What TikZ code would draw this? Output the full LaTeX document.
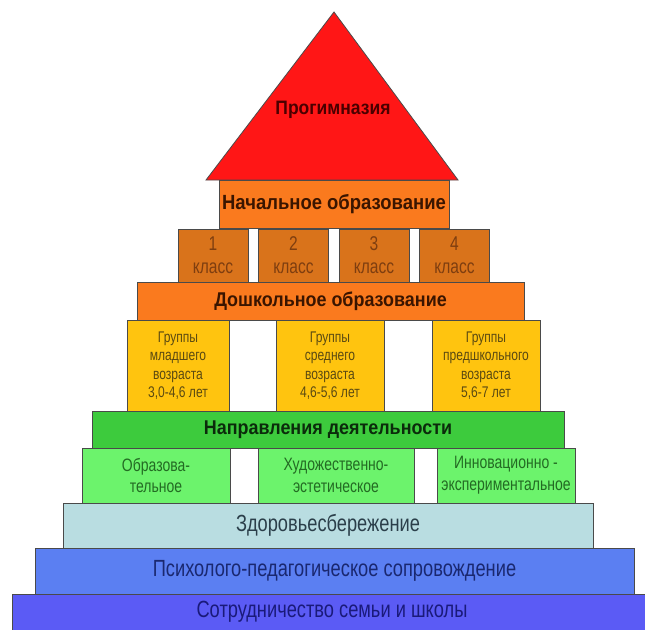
\documentclass[tikz,border=0pt]{standalone}
\usepackage{fontspec}
\setmainfont{Liberation Sans}
\newfontfamily\rfont{Liberation Sans}[FakeStretch=0.78]
\newfontfamily\bfont{Liberation Sans}[FakeStretch=0.9]
\definecolor{edge}{HTML}{4A4A4A}
\definecolor{roof}{HTML}{FF1616}
\definecolor{roofT}{HTML}{4A0000}
\definecolor{orA}{HTML}{FA7A1E}
\definecolor{orT}{HTML}{3A1500}
\definecolor{cls}{HTML}{D9731B}
\definecolor{clsT}{HTML}{7E3E10}
\definecolor{yel}{HTML}{FFC40F}
\definecolor{yelT}{HTML}{5B4A12}
\definecolor{grn}{HTML}{3DCB3D}
\definecolor{grnT}{HTML}{0B2B0B}
\definecolor{lgr}{HTML}{6CF36C}
\definecolor{lgrT}{HTML}{236B23}
\definecolor{lbl}{HTML}{B9DDE1}
\definecolor{lblT}{HTML}{2B3F4A}
\definecolor{psy}{HTML}{5B7FF2}
\definecolor{psyT}{HTML}{1A2870}
\definecolor{bot}{HTML}{5B5BF5}
\definecolor{botT}{HTML}{1A1A7A}
\begin{document}
\begin{tikzpicture}[x=1bp,y=-1bp,
  blk/.style={draw=edge, line width=0.8bp, rectangle, inner sep=0pt, align=center},
  btxt/.style={font=\bfont\bfseries\fontsize{20}{24}\selectfont},
  clsbox/.style={blk, fill=cls, text=clsT, minimum width=70bp, minimum height=53bp, font=\rfont\fontsize{20}{23}\selectfont},
  yelbox/.style={blk, fill=yel, text=yelT, minimum height=91bp, font=\rfont\fontsize{15.5}{18.5}\selectfont},
  lgrbox/.style={blk, fill=lgr, text=lgrT, minimum height=55bp, font=\rfont\fontsize{18}{22}\selectfont},
  basetxt/.style={font=\rfont\fontsize{23.5}{27}\selectfont}]
\useasboundingbox (0,0) rectangle (645,630);
\clip (0,0) rectangle (645,630);
\fill[white] (0,0) rectangle (645,630);
% roof
\coordinate (apex) at (334,12);
\coordinate (bl) at (206,180);
\coordinate (br) at (458,180);
\draw[edge, line width=0.8bp, fill=roof] (apex) -- (br) -- (bl) -- cycle;
\node[btxt, text=roofT, font=\bfont\bfseries\fontsize{19.5}{23}\selectfont] (rooftext) at (333,110) {Прогимназия};
% primary
\node[blk, btxt, fill=orA, text=orT, minimum width=230bp, minimum height=48bp, font=\bfont\bfseries\fontsize{20.6}{24}\selectfont] (nach) at (334,204) {Начальное образование};
\node[clsbox] (c1) at (213,255.5) {1\\класс};
\node[clsbox] (c2) at (293.5,255.5) {2\\класс};
\node[clsbox] (c3) at (374,255.5) {3\\класс};
\node[clsbox] (c4) at (454.5,255.5) {4\\класс};
% preschool
\node[blk, btxt, fill=orA, text=orT, minimum width=387bp, minimum height=38bp] (dosh) at (330.5,301) {Дошкольное образование};
\node[yelbox, minimum width=102bp] (y1) at (178,365.5) {Группы\\младшего\\возраста\\3,0-4,6 лет};
\node[yelbox, minimum width=108bp] (y2) at (330,365.5) {Группы\\среднего\\возраста\\4,6-5,6 лет};
\node[yelbox, minimum width=108bp] (y3) at (486,365.5) {Группы\\предшкольного\\возраста\\5,6-7 лет};
% directions
\node[blk, btxt, fill=grn, text=grnT, minimum width=472bp, minimum height=37bp] (napr) at (328,429.5) {Направления деятельности};
\node[lgrbox, minimum width=148bp] (g1) at (156,475.5) {Образова-\\тельное};
\node[lgrbox, minimum width=156bp] (g2) at (336,475.5) {Художественно-\\эстетическое};
\node[lgrbox, minimum width=138bp] (g3) at (506,475.5) {Инновационно -\\экспериментальное};
% base layers
\node[blk, basetxt, fill=lbl, text=lblT, minimum width=530bp, minimum height=45bp] (zdor) at (328,525.5) {Здоровьесбережение};
\node[blk, basetxt, fill=psy, text=psyT, minimum width=599bp, minimum height=46bp] (psych) at (334.5,571) {Психолого-педагогическое сопровождение};
\node[blk, fill=bot, minimum width=638bp, minimum height=42bp] (sotr) at (331,615) {};
\node[basetxt, text=botT] (sotrtext) at (332,612) {Сотрудничество семьи и школы};
\end{tikzpicture}
\end{document}
